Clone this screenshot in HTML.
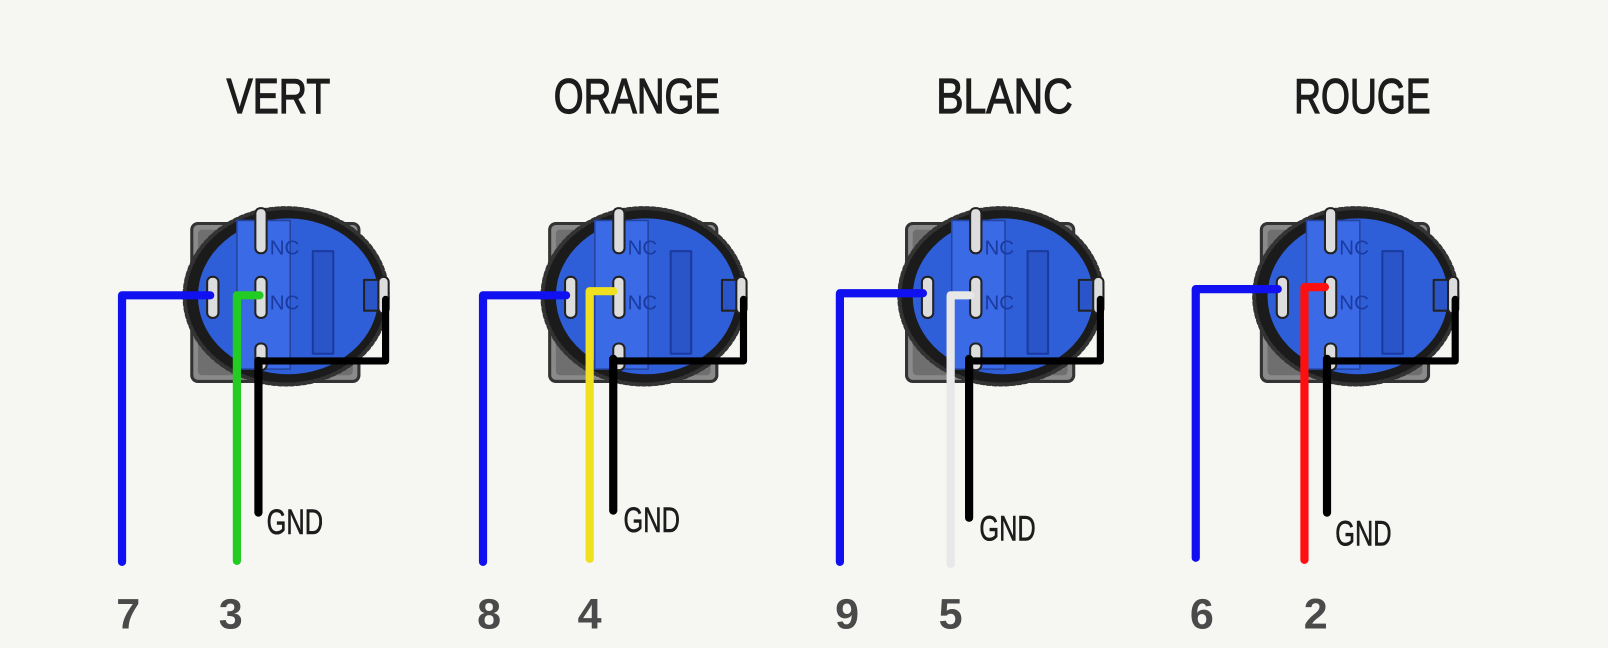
<!DOCTYPE html>
<html><head><meta charset="utf-8"><style>
html,body{margin:0;padding:0;background:#f6f6f3;}
svg{display:block}
.t{font-family:"Liberation Sans Narrow","Liberation Sans",sans-serif;fill:#1c1c1c;stroke:#1c1c1c;stroke-width:1.2px;}
.n{font-family:"Liberation Sans",sans-serif;font-weight:bold;fill:#4a4a4a;font-size:42px;}
.g{font-family:"Liberation Sans Narrow","Liberation Sans",sans-serif;fill:#1c1c1c;stroke:#1c1c1c;stroke-width:0.6px;font-size:34px;}
</style></head><body>
<svg width="1608" height="648" viewBox="0 0 1568 632" preserveAspectRatio="none" xmlns="http://www.w3.org/2000/svg">
<rect width="1568" height="632" fill="#f6f6f3"/>
<defs>
<g id="sw">
<rect x="187" y="218" width="163" height="154" rx="6" fill="#8a8a8a" stroke="#333" stroke-width="3"/>
<rect x="193" y="224" width="151" height="142" rx="4" fill="#6f6f6f"/>
<ellipse cx="279" cy="289" rx="99" ry="86" fill="#1b1b1b" stroke="#333" stroke-width="4" stroke-dasharray="3 3"/>
<ellipse cx="281" cy="289" rx="88" ry="76" fill="#2f5fd8"/>
<rect x="231" y="215" width="52" height="145" fill="#3a6ae6" stroke="#24449e" stroke-width="1.5"/>
<rect x="305" y="245" width="20" height="100" fill="#2a55c8" stroke="#1a3aa0" stroke-width="2"/>
<text x="263" y="248" font-family="Liberation Sans" font-size="20" fill="#1a3aa0">NC</text>
<text x="263" y="302" font-family="Liberation Sans" font-size="20" fill="#1a3aa0">NC</text>
<rect x="355" y="273" width="18" height="30" fill="#2a55c8" stroke="#222" stroke-width="2"/>
<rect x="369" y="270" width="10" height="36" rx="5" fill="#ddd" stroke="#222" stroke-width="2"/>
<rect x="249" y="203" width="11" height="44" rx="5" fill="#ddd" stroke="#222" stroke-width="2"/>
<rect x="249" y="270" width="11" height="40" rx="5" fill="#ddd" stroke="#222" stroke-width="2"/>
<rect x="249" y="335" width="11" height="26" rx="5" fill="#ddd" stroke="#222" stroke-width="2"/>
<rect x="202" y="270" width="11" height="40" rx="5" fill="#ddd" stroke="#222" stroke-width="2"/>
<path d="M253 352 H376 V292" fill="none" stroke="#000" stroke-width="7" stroke-linejoin="round"/>
</g>
</defs>

<g fill="none" stroke-width="8" stroke-linecap="round" stroke-linejoin="round">
<use href="#sw"/>
<path d="M205 288 H119 V548" stroke="#1010f0"/>
<path d="M253 288 H231 V547" stroke="#22cc22"/>
<path d="M252 352 V500" stroke="#000"/>
<use href="#sw" transform="translate(349,0)"/>
<path d="M552 288 H471 V548" stroke="#1010f0"/>
<path d="M598 284 H575 V545" stroke="#f0e020"/>
<path d="M598 350 V498" stroke="#000"/>
<use href="#sw" transform="translate(697,0)"/>
<path d="M900 286 H819 V548" stroke="#1010f0"/>
<path d="M946 288 H927 V550" stroke="#e8e8e8"/>
<path d="M945 350 V505" stroke="#000"/>
<use href="#sw" transform="translate(1043,0)"/>
<path d="M1246 282 H1166 V544" stroke="#1010f0"/>
<path d="M1292 280 H1272 V546" stroke="#ff1010"/>
<path d="M1294 350 V500" stroke="#000"/>
</g>

<text class="t" x="221" y="110" font-size="48" textLength="101" lengthAdjust="spacingAndGlyphs">VERT</text>
<text class="t" x="540" y="110" font-size="48" textLength="162" lengthAdjust="spacingAndGlyphs">ORANGE</text>
<text class="t" x="913" y="110" font-size="48" textLength="133" lengthAdjust="spacingAndGlyphs">BLANC</text>
<text class="t" x="1262" y="110" font-size="48" textLength="133" lengthAdjust="spacingAndGlyphs">ROUGE</text>

<text class="g" x="260" y="521" textLength="55" lengthAdjust="spacingAndGlyphs">GND</text>
<text class="g" x="608" y="519" textLength="55" lengthAdjust="spacingAndGlyphs">GND</text>
<text class="g" x="955" y="527" textLength="55" lengthAdjust="spacingAndGlyphs">GND</text>
<text class="g" x="1302" y="532" textLength="55" lengthAdjust="spacingAndGlyphs">GND</text>

<text class="n" x="125" y="613" text-anchor="middle">7</text>
<text class="n" x="225" y="613" text-anchor="middle">3</text>
<text class="n" x="477" y="613" text-anchor="middle">8</text>
<text class="n" x="575" y="613" text-anchor="middle">4</text>
<text class="n" x="826" y="613" text-anchor="middle">9</text>
<text class="n" x="927" y="613" text-anchor="middle">5</text>
<text class="n" x="1172" y="613" text-anchor="middle">6</text>
<text class="n" x="1283" y="613" text-anchor="middle">2</text>
</svg>
</body></html>
